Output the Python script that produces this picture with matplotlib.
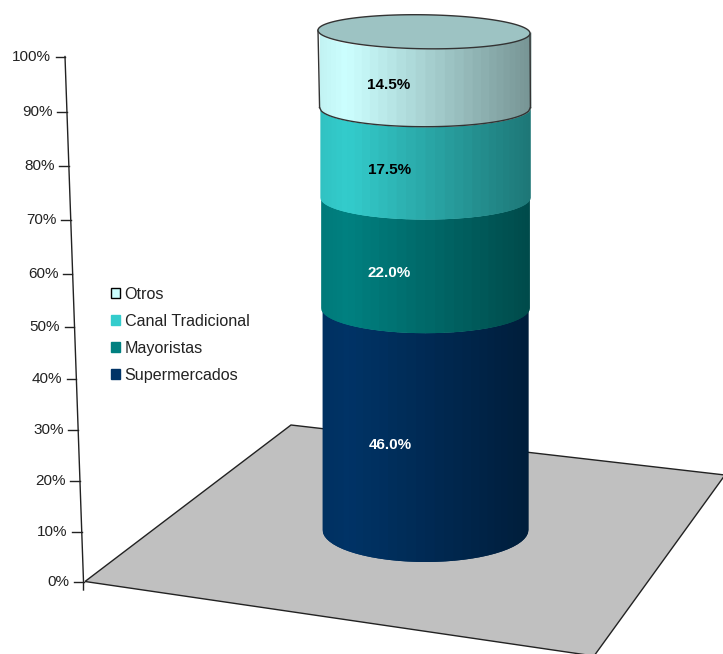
import numpy as np
import matplotlib
matplotlib.use("Agg")
import matplotlib.pyplot as plt
from matplotlib.patches import Patch, Polygon

plt.rcParams['font.family'] = ['Liberation Sans', 'DejaVu Sans']

# Stacked shares, bottom to top
series = ['Supermercados', 'Mayoristas', 'Canal Tradicional', 'Otros']
values = [46.0, 22.0, 17.5, 14.5]
colors = ['#003366', '#008080', '#33CCCC', '#CCFFFF']
label_colors = ['white', 'white', 'black', 'black']

tick_values = [0, 10, 20, 30, 40, 50, 60, 70, 80, 90, 100]
tick_labels = ['0%', '10%', '20%', '30%', '40%', '50%', '60%', '70%', '80%', '90%', '100%']

top_color = '#9DC3C3'
floor_color = '#C0C0C0'
line_color = '#222222'

# Floor corners in canvas pixels
floor_xy = [(85, 581.5), (291, 425), (725, 475), (594, 656)]

# Perspective shrink of the height axis
persp = -0.000556


def axis_y(v):
    return (581.5 - 5.281 * v) / (1 + persp * v)


def axis_x(v):
    return 83.5 - 0.185 * v


def column_y(v):
    return (529.5 - 4.995 * v) / (1 + persp * v)


def column_rx(v):
    return 102 + 0.04 * v


def column_ry(v):
    return 32 - 0.15 * v


def shade(t):
    # Light peak just right of the left edge, falling off to the right
    s = np.interp(t, [-1, -0.75, 1], [0.95, 1.0, 0.58])
    return s


def rgb(c, s):
    r, g, b = matplotlib.colors.to_rgb(c)
    return (r * s, g * s, b * s)


def front_curve(v, t):
    return column_y(v) + column_ry(v) * np.sqrt(1 - t ** 2)


def draw_segment(ax, v0, v1, color, cx=425, n=34):
    ang = np.linspace(np.pi, 0, n + 1)
    ts = np.cos(ang)
    for i in range(n):
        # each strip runs under the next one so no gaps show between them
        t = ts[i:i + 3]
        x0 = cx + column_rx(v0) * t
        x1 = cx + column_rx(v1) * t
        x = (x0 + x1) / 2
        c = rgb(color, shade(ts[i:i + 2].mean()))
        ax.fill_between(x, front_curve(v0, t), front_curve(v1, t), color=c, lw=0,
                        antialiased=False, zorder=3)


def main():
    fig = plt.figure(figsize=(7.23, 6.54), dpi=100)
    ax = fig.add_axes([0, 0, 1, 1])
    ax.set_xlim(0, 723)
    ax.set_ylim(654, 0)
    ax.axis('off')

    ax.add_patch(Polygon(floor_xy, closed=True, facecolor=floor_color,
                         edgecolor=line_color, lw=1.0, zorder=1))

    # Height axis with ticks
    ax.plot([axis_x(100), axis_x(0), axis_x(0)], [axis_y(100), axis_y(0), 590],
            color=line_color, lw=1.0, zorder=2)
    for v, lab in zip(tick_values, tick_labels):
        x = axis_x(v)
        y = axis_y(v)
        ax.plot([x - 9.5, x], [y, y], color=line_color, lw=1.0, zorder=2)
        ax.text(x - 14, y, lab, ha='right', va='center', fontsize=11, color='#222222')

    # Column segments
    cx = 425
    tops = np.cumsum(values)
    bottoms = tops - np.array(values)
    for b, t, c in zip(bottoms, tops, colors):
        draw_segment(ax, b, t, c, cx)

    # Top face and outline of the uppermost segment, the cap leans slightly
    th = np.linspace(0, 2 * np.pi, 181)
    top = tops[-1]
    tilt = 1.5
    ex = cx - 1 + column_rx(top) * np.cos(th)
    ey = column_y(top) + column_ry(top) * np.sin(th) + tilt * np.cos(th)
    ax.fill(ex, ey, facecolor=top_color, edgecolor='#333333', lw=1.0, zorder=5)

    t = np.linspace(-1, 1, 121)
    low = bottoms[-1]
    ax.plot(cx + column_rx(low) * t, front_curve(low, t), color='#333333', lw=1.0, zorder=4)
    for side in [-1, 1]:
        ax.plot([cx + side * column_rx(low), cx - 1 + side * column_rx(top)],
                [column_y(low), column_y(top) + side * tilt], color='#333333', lw=1.0, zorder=4)

    # Value labels sit on the front of each segment
    for b, val, lc in zip(bottoms, values, label_colors):
        mid = b + val / 2
        tl = -0.35
        ax.text(cx + column_rx(mid) * tl + 1, front_curve(mid, tl) - 2, '%.1f%%' % val,
                ha='center', va='center', fontsize=11, fontweight='bold',
                color=lc, zorder=6)

    # Legend, top entry first
    handles = []
    for name, c in zip(series[::-1], colors[::-1]):
        edge = 'black' if name == 'Otros' else c
        handles.append(Patch(facecolor=c, edgecolor=edge, lw=1.0, label=name))
    ax.legend(handles=handles, loc='upper left', bbox_to_anchor=(111, 287),
              bbox_transform=ax.transData, frameon=False, fontsize=11.6,
              handlelength=0.55, handleheight=0.55, handletextpad=0.3,
              labelspacing=0.74, borderpad=0, borderaxespad=0, labelcolor='#222222')

    fig.savefig('out.png', dpi=100)


if __name__ == "__main__":
    main()
